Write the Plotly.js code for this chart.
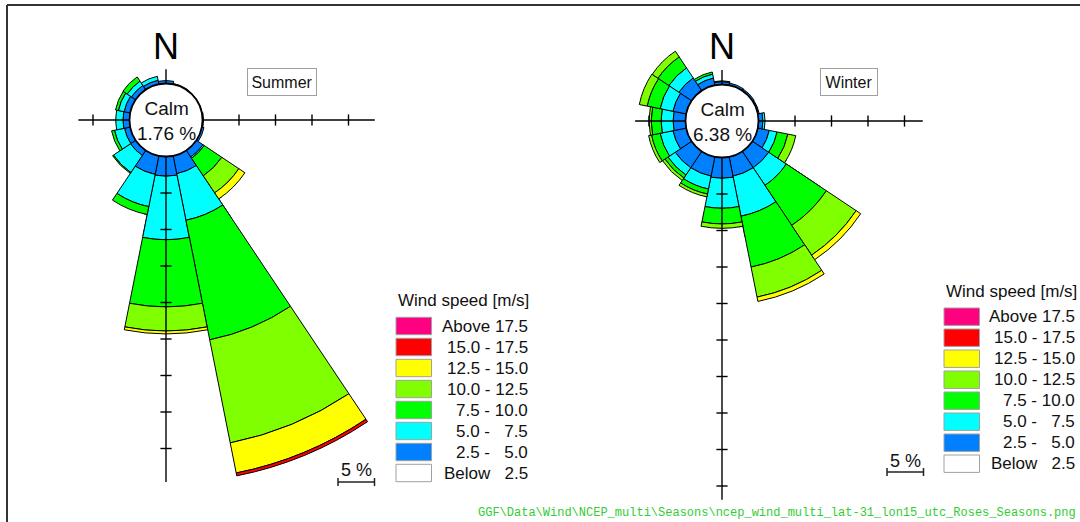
<!DOCTYPE html>
<html>
<head>
<meta charset="utf-8">
<script src="https://cdn.plot.ly/plotly-3.0.1.min.js"></script>
<style>
html,body{margin:0;padding:0;background:#fff;}
#chart{width:1080px;height:522px;}
</style>
</head>
<body>
<div id="chart"></div>
<script>
// ---------------- DATA ----------------
const directions   = ['N','NNE','NE','ENE','E','ESE','SE','SSE','S','SSW','SW','WSW','W','WNW','NW','NNW'];
const directionDeg = [0,22.5,45,67.5,90,112.5,135,157.5,180,202.5,225,247.5,270,292.5,315,337.5];

const speedBins = ['2.5 - 5.0','5.0 - 7.5','7.5 - 10.0','10.0 - 12.5','12.5 - 15.0','15.0 - 17.5','Above 17.5'];
const speedColors = ['#0080FF','#00FFFF','#00FF00','#80FF00','#FFFF00','#FF0000','#FF0080'];

// legend (top to bottom)
const legendLabels = ['Above 17.5','15.0 - 17.5','12.5 - 15.0','10.0 - 12.5','7.5 - 10.0','5.0 - \u20077.5','2.5 - \u20075.0','Below \u20072.5'];
const legendColors = ['#FF0080','#FF0000','#FFFF00','#80FF00','#00FF00','#00FFFF','#0080FF','#FFFFFF'];

// Summer: frequency (%) per direction N..NNW for each speed bin
const summerCalm = 1.76;
const summer25_50    = [0.4,0.1,0.05,0.05,0.15,0.3,1.1,2.5,2.7,2.6,0.85,0.8,0.9,0.85,0.7,0.55];
const summer50_75    = [0,0,0,0,0,0,0.2,6.5,8.7,4.5,2.8,1.4,1.0,0.8,0.7,0.55];
const summer75_100   = [0,0,0,0,0,0,2.9,16.7,9.2,1.1,0.15,0.4,0,0.4,0.7,0];
const summer100_125  = [0,0,0,0,0,0,2.8,14.4,3.3,0,0,0,0,0,0,0];
const summer125_150  = [0,0,0,0,0,0,1.0,4.2,0.4,0,0,0,0,0,0,0];
const summer150_175  = [0,0,0,0,0,0,0,0.4,0,0,0,0,0,0,0,0];
const summerAbove175 = [0,0,0,0,0,0,0,0,0,0,0,0,0,0,0,0];

// Winter
const winterCalm = 6.38;
const winter25_50    = [0.4,0.3,0.25,0.2,0.6,1.6,2.7,2.7,2.85,2.7,2.7,1.85,1.7,1.85,2.1,1.0];
const winter50_75    = [0.1,0,0,0,0.3,1.1,2.9,5.6,4.1,1.8,1.2,1.8,1.65,1.8,1.65,0.55];
const winter75_100   = [0,0,0,0,0,1.5,6.6,7.1,2.15,0.7,0.5,1.2,1.35,1.8,1.8,0.3];
const winter100_125  = [0,0,0,0,0,1.1,4.9,4.2,0.6,0.4,0.4,0.4,0.3,1.1,0.95,0];
const winter125_150  = [0,0,0,0,0,0,0.75,0.6,0,0,0,0,0,0,0,0];
const winter150_175  = [0,0,0,0,0,0,0,0,0,0,0,0,0,0,0,0];
const winterAbove175 = [0,0,0,0,0,0,0,0,0,0,0,0,0,0,0,0];

// ---------------- LAYOUT CONSTANTS ----------------
const W = 1080, H = 522;
const PX_PER_PCT = 7.3;     // radial scale (px per %)
const HOLE_PX = 36.5;       // calm circle radius
const R_INNER = 118;        // full-circle subplot radius
const TICK_STEP = 5;
const FONT = 'Liberation Sans, Arial, sans-serif';

const roses = [
  {name:'Summer', calm:summerCalm,
   series:[summer25_50,summer50_75,summer75_100,summer100_125,summer125_150,summer150_175,summerAbove175],
   cx:166, cy:120, sector:[256,306], rmaxOuter:46,
   reach:{N:1.95,E:23.6,S:44.6,W:7.0},
   box:{x:281.5,y:82,w:62}, scale:{x0:338,y:482,ty:470},
   legend:{x:396,titleY:300,firstY:326,labelRight:529.5},
   polars:['polar','polar2']},
  {name:'Winter', calm:winterCalm,
   series:[winter25_50,winter50_75,winter75_100,winter100_125,winter125_150,winter150_175,winterAbove175],
   cx:722, cy:121, sector:[279,329], rmaxOuter:21,
   reach:{N:2.0,E:22.5,S:46.9,W:6.9},
   box:{x:849,y:82,w:50}, scale:{x0:887,y:472,ty:461},
   legend:{x:944,titleY:291.5,firstY:316.7,labelRight:1077},
   polars:['polar3','polar4']}
];

const px = v => v / W;
const py = v => 1 - v / H;
const d2r = d => d * Math.PI / 180;

// same bbox logic as plotly polar sectors
function sectorBBox(sector){
  const s0 = sector[0], s1 = sector[1], arc = s1 - s0;
  const a0 = ((s0 % 360) + 360) % 360, a1 = a0 + arc;
  const ax0 = Math.cos(d2r(a0)), ay0 = Math.sin(d2r(a0));
  const ax1 = Math.cos(d2r(a1)), ay1 = Math.sin(d2r(a1));
  let x0,y0,x1,y1;
  if((a0<=90&&a1>=90)||(a0>90&&a1>=450)) y1=1; else if(ay0<=0&&ay1<=0) y1=0; else y1=Math.max(ay0,ay1);
  if((a0<=180&&a1>=180)||(a0>180&&a1>=540)) x0=-1; else if(ax0>=0&&ax1>=0) x0=0; else x0=Math.min(ax0,ax1);
  if((a0<=270&&a1>=270)||(a0>270&&a1>=630)) y0=-1; else if(ay0>=0&&ay1>=0) y0=0; else y0=Math.min(ay0,ay1);
  if(a1>=360) x1=1; else if(ax0<=0&&ax1<=0) x1=0; else x1=Math.max(ax0,ax1);
  return [x0,y0,x1,y1];
}

const hiddenAngular = {rotation:90, direction:'clockwise', showline:false, showgrid:false, showticklabels:false, ticks:''};
function hiddenRadial(rmax){ return {range:[0,rmax], showline:false, showgrid:false, showticklabels:false, ticks:''}; }

// a polar subplot (sector) sharing the rose's centre and radial scale
function sectorPolar(rose, sector, rmax){
  const R = HOLE_PX + PX_PER_PCT * rmax;
  const bb = sectorBBox(sector);
  return {
    domain:{x:[px(rose.cx + R*bb[0]), px(rose.cx + R*bb[2])], y:[py(rose.cy - R*bb[1]), py(rose.cy - R*bb[3])]},
    sector: sector, hole: HOLE_PX / R, bgcolor:'rgba(0,0,0,0)', bargap:0,
    angularaxis: hiddenAngular, radialaxis: hiddenRadial(rmax)
  };
}

const barTraces = [], axisTraces = [];
const layout = {
  width:W, height:H, margin:{l:0,r:0,t:0,b:0},
  paper_bgcolor:'#fff', showlegend:false,
  annotations:[], shapes:[]
};

let extraId = 5;
roses.forEach(rose => {
  const [pA, pB] = rose.polars;
  const rmaxA = (R_INNER - HOLE_PX) / PX_PER_PCT;
  layout[pA] = {
    domain:{x:[px(rose.cx - R_INNER), px(rose.cx + R_INNER)], y:[py(rose.cy + R_INNER), py(rose.cy - R_INNER)]},
    hole: HOLE_PX / R_INNER, bgcolor:'rgba(0,0,0,0)', bargap:0,
    angularaxis: hiddenAngular, radialaxis: hiddenRadial(rmaxA)
  };
  layout[pB] = sectorPolar(rose, rose.sector, rose.rmaxOuter);

  [pA, pB].forEach(sp => {
    rose.series.forEach((vals, i) => {
      barTraces.push({
        type:'barpolar', subplot:sp, r:vals, theta:directionDeg, width:22.5,
        name:speedBins[i], marker:{color:speedColors[i], line:{color:'#000', width:1}},
        showlegend:false, hoverinfo:'skip'
      });
    });
  });

  // axis lines + ticks, drawn on top of the bars
  [['N',0],['E',90],['S',180],['W',270]].forEach(([k,deg]) => {
    const reach = rose.reach[k];
    let sp = pA;
    if(HOLE_PX + reach * PX_PER_PCT > R_INNER - 1){
      sp = 'polar' + (extraId++);
      const s = 90 - deg;
      layout[sp] = sectorPolar(rose, [s - 5, s + 5], reach + 0.3);
    }
    axisTraces.push({type:'scatterpolar', subplot:sp, mode:'lines', r:[0,reach], theta:[deg,deg],
      line:{color:'#000', width:1.4}, cliponaxis:false, showlegend:false, hoverinfo:'skip'});
    const tk = [];
    for(let t = TICK_STEP; t < reach - 0.4; t += TICK_STEP) tk.push(t);
    if(tk.length) axisTraces.push({type:'scatterpolar', subplot:sp, mode:'markers', r:tk, theta:tk.map(()=>deg),
      marker:{symbol:(deg % 180 === 0) ? 'line-ew' : 'line-ns', size:8, color:'#000', line:{color:'#000', width:1.4}},
      cliponaxis:false, showlegend:false, hoverinfo:'skip'});
  });

  // calm circle
  layout.shapes.push({type:'circle', xref:'paper', yref:'paper',
    x0:px(rose.cx - HOLE_PX), x1:px(rose.cx + HOLE_PX), y0:py(rose.cy + HOLE_PX), y1:py(rose.cy - HOLE_PX),
    fillcolor:'#fff', line:{color:'#000', width:1.8}});

  // texts
  layout.annotations.push({x:px(rose.cx), y:py(47), xref:'paper', yref:'paper', text:'N', showarrow:false,
    xanchor:'center', yanchor:'middle', font:{family:FONT, size:36, color:'#000'}});
  layout.annotations.push({x:px(rose.cx), y:py(rose.cy + 1), xref:'paper', yref:'paper',
    text:'Calm<br>' + rose.calm.toFixed(2) + ' %', showarrow:false, xanchor:'center', yanchor:'middle',
    font:{family:FONT, size:19, color:'#111'}});
  layout.annotations.push({x:px(rose.box.x), y:py(rose.box.y), xref:'paper', yref:'paper', text:rose.name,
    showarrow:false, xanchor:'center', yanchor:'middle', width:rose.box.w, height:20, borderpad:3,
    bordercolor:'#a0a0a0', borderwidth:1, font:{family:FONT, size:16, color:'#111'}});
  // scale bar (5 %)
  const sc = rose.scale, sx1 = sc.x0 + TICK_STEP * PX_PER_PCT;
  layout.annotations.push({x:px((sc.x0+sx1)/2), y:py(sc.ty), xref:'paper', yref:'paper', text:'5 %',
    showarrow:false, xanchor:'center', yanchor:'middle', font:{family:FONT, size:18, color:'#111'}});
  layout.shapes.push({type:'line', xref:'paper', yref:'paper', x0:px(sc.x0), x1:px(sx1), y0:py(sc.y), y1:py(sc.y), line:{color:'#222', width:1.5}});
  [sc.x0, sx1].forEach(xx => layout.shapes.push({type:'line', xref:'paper', yref:'paper',
    x0:px(xx), x1:px(xx), y0:py(sc.y-4), y1:py(sc.y+4), line:{color:'#222', width:1.5}}));

  // legend block
  const lg = rose.legend;
  layout.annotations.push({x:px(lg.x), y:py(lg.titleY), xref:'paper', yref:'paper', text:'Wind speed [m/s]',
    showarrow:false, xanchor:'left', yanchor:'middle', font:{family:FONT, size:17, color:'#111'}});
  legendLabels.forEach((lab, i) => {
    const yc = lg.firstY + 21 * i;
    layout.shapes.push({type:'rect', xref:'paper', yref:'paper', x0:px(lg.x), x1:px(lg.x + 35.5),
      y0:py(yc + 8.7), y1:py(yc - 8.7), fillcolor:legendColors[i], line:{color:'#a0a0a0', width:1}});
    layout.annotations.push({x:px(lg.labelRight), y:py(yc), xref:'paper', yref:'paper', text:lab,
      showarrow:false, xanchor:'right', yanchor:'middle', font:{family:FONT, size:17, color:'#111'}});
  });
});

// frame
layout.shapes.push({type:'line', xref:'paper', yref:'paper', x0:px(7), x1:1, y0:py(5), y1:py(5), line:{color:'#333', width:2}});
layout.shapes.push({type:'line', xref:'paper', yref:'paper', x0:px(7), x1:px(7), y0:py(5), y1:0, line:{color:'#333', width:2}});

// footer path
layout.annotations.push({x:px(1078), y:py(522), xref:'paper', yref:'paper',
  text:'GGF\\Data\\Wind\\NCEP_multi\\Seasons\\ncep_wind_multi_lat-31_lon15_utc_Roses_Seasons.png',
  showarrow:false, xanchor:'right', yanchor:'bottom', font:{family:'Liberation Mono, Courier New, monospace', size:12, color:'#33cc33'}});

Plotly.newPlot('chart', barTraces.concat(axisTraces), layout, {displayModeBar:false, staticPlot:true});
</script>
</body>
</html>
